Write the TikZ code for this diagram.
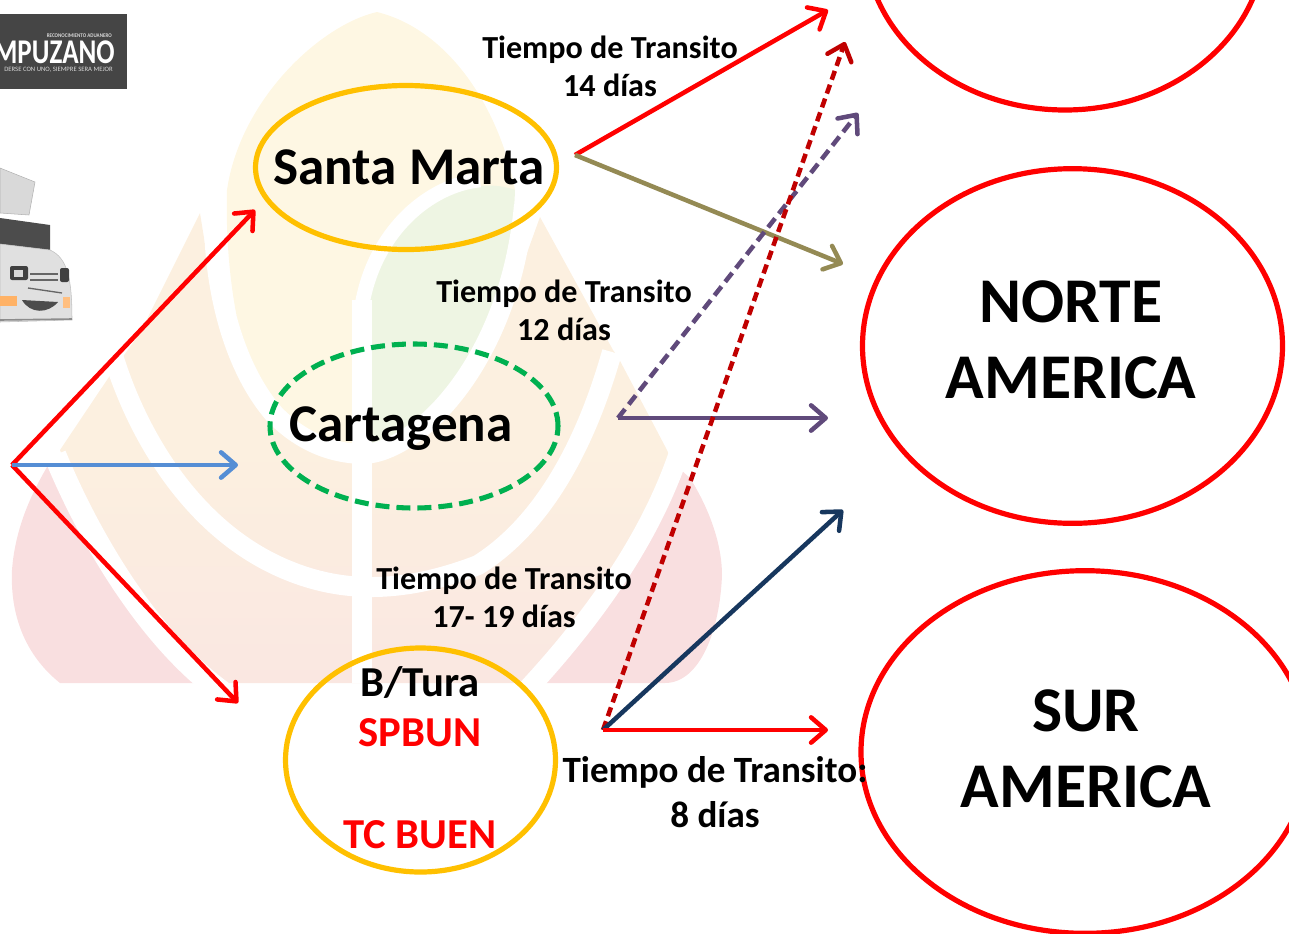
\documentclass[tikz,border=0pt]{standalone}
\usepackage{fontspec}
\setmainfont{Carlito}
\usetikzlibrary{arrows.meta,shapes.geometric}
\definecolor{cRed}{HTML}{FF0000}
\definecolor{cGold}{HTML}{FFC000}
\definecolor{cGreen}{HTML}{00B050}
\definecolor{cBlue}{HTML}{558ED5}
\definecolor{cPurple}{HTML}{604A7B}
\definecolor{cOlive}{HTML}{948A54}
\definecolor{cDark}{HTML}{C00000}
\definecolor{cNavy}{HTML}{17375E}
\definecolor{wmPink}{HTML}{F9DFE0}
\definecolor{wmRose}{HTML}{FAE7E1}
\definecolor{wmOrange}{HTML}{FCF0E0}
\definecolor{wmYellow}{HTML}{FEF7E3}
\definecolor{wmGreen}{HTML}{EEF5E3}
\tikzset{
 x=0.75pt,y=-0.75pt,
 flow/.style={line width=3.4pt,-{Straight Barb[length=11pt,width=19pt,round]}},
 dashA/.style={flow,dash pattern=on 8.5pt off 4.5pt},
 dashB/.style={flow,dash pattern=on 7pt off 4pt},
 ring/.style={ellipse,inner sep=0pt,outer sep=0pt},
 ringA/.style={ring,draw=cGold,line width=3.9pt},
 ringB/.style={ring,draw=cRed,line width=3.9pt},
 ringC/.style={ring,draw=cGreen,line width=3.8pt,dash pattern=on 10.5pt off 5.25pt},
 lab/.style={font=\bfseries\fontsize{24.1}{28.5}\selectfont,align=center,inner sep=0pt},
 labB/.style={font=\bfseries\fontsize{27.8}{33.75}\selectfont,align=center,inner sep=0pt},
 big/.style={font=\bfseries\fontsize{47.8}{57}\selectfont,align=center,inner sep=0pt},
 mid/.style={font=\bfseries\fontsize{39.8}{40}\selectfont,inner sep=0pt},
 port/.style={font=\bfseries\fontsize{32}{34}\selectfont,inner sep=0pt},
 band/.style={draw=white,line width=17pt},
 band2/.style={draw=white,line width=15pt},
}
\begin{document}
\begin{tikzpicture}
\useasboundingbox (0,0) rectangle (1289,933);
\clip (0,0) rectangle (1289,933);
% watermark: lobes
\fill[wmPink] (60,683) .. controls (25,655) and (10,615) .. (12,570) .. controls (15,530) and (30,495) .. (50,462) .. controls (80,530) and (150,640) .. (218,683) -- cycle;
\fill[wmPink] (525,683) .. controls (600,610) and (650,530) .. (672,462) -- (690,478) .. controls (710,510) and (722,545) .. (722,575) .. controls (720,630) and (700,683) .. (665,683) -- cycle;
% watermark: middle flames
\shade[top color=wmOrange,bottom color=wmRose,middle color=wmOrange,shading angle=0]
 (60,450) -- (117,365) -- (140,333) -- (200,213) -- (214,300) -- (360,400) -- (510,300) -- (540,217) -- (613,350) -- (618,357) -- (667,450) -- (672,462) .. controls (650,530) and (600,610) .. (525,683) -- (218,683) .. controls (150,640) and (90,530) .. (60,450) -- cycle;
% watermark: inner flame
\fill[wmYellow] (377,12) .. controls (320,25) and (240,100) .. (227,190) .. controls (225,260) and (235,340) .. (262,400) .. controls (285,435) and (320,452) .. (365,452) -- (375,300) .. controls (390,230) and (460,180) .. (515,190) .. controls (500,110) and (450,30) .. (377,12) -- cycle;
\fill[wmGreen] (365,452) .. controls (430,450) and (510,340) .. (515,190) .. controls (460,170) and (385,220) .. (365,300) -- cycle;
% watermark: white bands
\draw[band] (55,455) .. controls (90,540) and (150,640) .. (222,692);
\draw[band2] (680,450) .. controls (660,510) and (620,590) .. (525,692);
\draw[band2] (112,352) .. controls (135,430) and (190,530) .. (287,570) .. controls (340,592) and (400,595) .. (478,565) .. controls (550,520) and (590,430) .. (612,352);
\draw[band2] (214,205) .. controls (212,290) and (235,370) .. (275,415) .. controls (300,440) and (330,454) .. (365,454) .. controls (420,450) and (510,360) .. (524,205);
\draw[white,line width=11pt] (480,180) .. controls (430,185) and (375,230) .. (362,305);
\fill[white] (352,300) rectangle (372,683);
% logo
\node[fill=black!73,minimum width=95.25pt,minimum height=56.25pt,inner sep=0pt,outer sep=0pt,anchor=north west] (logo) at (0,14) {};
\node[text=white,inner sep=0pt,anchor=east] (logoname) at (115,52.5) {\scalebox{0.78}[1]{\bfseries\fontsize{26}{26}\selectfont AMPUZANO}};
\node[text=white!85!black,inner sep=0pt,anchor=east] (logotop) at (112,36) {\scalebox{0.9}[1]{\bfseries\fontsize{4.2}{5}\selectfont RECONOCIMIENTO ADUANERO}};
\node[text=white!85!black,inner sep=0pt,anchor=east] (logosub) at (113,70) {\fontsize{5}{6}\selectfont DERSE CON UNO, SIEMPRE SERA MEJOR};
% truck
\fill[black!15,draw=black!30] (0,168) -- (35,182) -- (29,215) -- (0,213) -- cycle;
\fill[black!70] (0,218) -- (50,225) -- (50,250) -- (0,244) -- cycle;
\fill[black!12,draw=black!25] (0,244) -- (50,250) .. controls (68,258) and (72,280) .. (72,320) -- (0,322) -- cycle;
\fill[black!75,rounded corners=1.5pt] (10,266) rectangle (28,280);
\fill[black!15] (14,270) rectangle (23,277);
\draw[black!60,line width=1.3pt] (30,274) -- (58,274) (30,280) -- (58,280);
\fill[black!75,rounded corners=1.5pt] (60,268) rectangle (69,282);
\draw[black!60,line width=1pt] (28,288) -- (62,293);
\fill[orange!60] (0,296) rectangle (17,306);
\fill[orange!50] (63,297) rectangle (70,308);
\fill[black!70] (22,300) .. controls (30,314) and (48,314) .. (58,302) -- cycle;
\draw[black!45,line width=1.2pt] (0,320) -- (72,319);
% rings
\node[ringA,minimum width=225.75pt,minimum height=123pt] (santa) at (406,167.5) {};
\node[ringC,minimum width=216pt,minimum height=123pt] (carta) at (414,426) {};
\node[ringA,minimum width=202.5pt,minimum height=168pt] (buen) at (420.5,760) {};
\node[ringB,minimum width=315pt,minimum height=266pt] (norte) at (1072.5,346) {};
\node[ringB,minimum width=336pt,minimum height=272pt] (sur) at (1085,752) {};
\node[ringB,minimum width=300pt,minimum height=255pt] (topring) at (1065,-60) {};
% ring texts
\node[mid] (santaT) at (409,167) {Santa Marta};
\node[mid] (cartaT) at (401,429) {Cartagena};
\node[port] (bt) at (420,682) {B/Tura};
\node[port,text=cRed] (spbun) at (420,733) {SPBUN};
\node[port,text=cRed] (tcbuen) at (420,835) {TC BUEN};
\node[big] (norteT) at (1071,340) {NORTE\\AMERICA};
\node[big] (surT) at (1086,749) {SUR\\AMERICA};
% labels
\node[lab] (t14) at (610,66) {Tiempo de Transito\\14 días};
\node[lab] (t12) at (564,310) {Tiempo de Transito\\12 días};
\node[lab] (t17) at (504,597) {Tiempo de Transito\\17- 19 días};
\node[labB] (t8) at (715,792) {Tiempo de Transito:\\8 días};
% connectors
\coordinate (hub) at (12,465);
\coordinate (sm) at (575,155);
\coordinate (ct) at (618,418);
\coordinate (bu) at (603,730);
\coordinate (a1) at (255,210);
\coordinate (a2) at (238,465);
\coordinate (a3) at (238,703);
\coordinate (b1) at (828,10);
\coordinate (b2) at (843,264);
\coordinate (c1) at (858,113);
\coordinate (c2) at (828,418);
\coordinate (d1) at (845,42);
\coordinate (d2) at (843,510);
\coordinate (d3) at (828,730);
\draw[flow,cRed] (hub) -- (a1);
\draw[flow,cRed] (hub) -- (a3);
\draw[flow,cBlue] (hub) -- (a2);
\draw[flow,cRed] (sm) -- (b1);
\draw[flow,cOlive] (sm) -- (b2);
\draw[dashA,cPurple] (ct) -- (c1);
\draw[flow,cPurple] (ct) -- (c2);
\draw[dashB,cDark] (bu) -- (d1);
\draw[flow,cNavy] (bu) -- (d2);
\draw[flow,cRed] (bu) -- (d3);
\end{tikzpicture}
\end{document}
